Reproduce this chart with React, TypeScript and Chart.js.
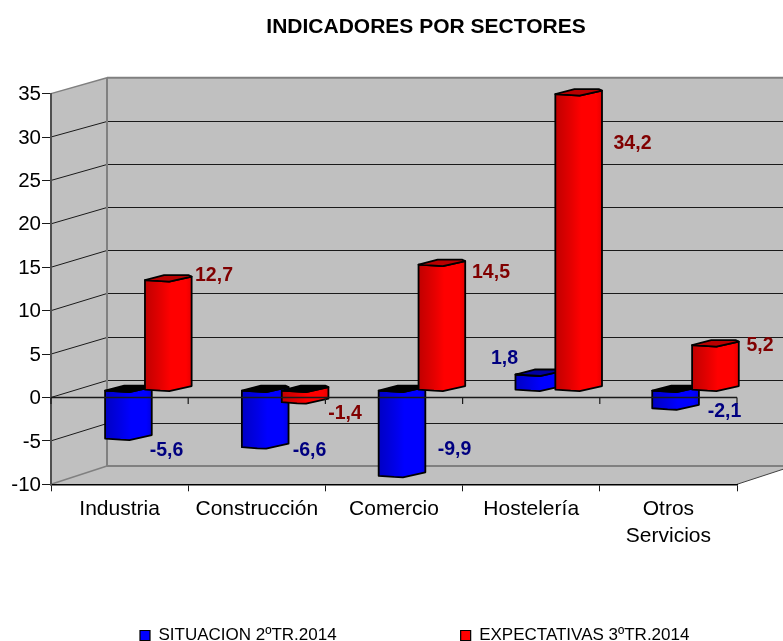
import React, { useEffect, useRef } from "react";
import { Chart, registerables, BarController, BarElement } from "chart.js";

const categories: any[] = ["Industria", "Construcción", "Comercio", "Hostelería", ["Otros", "Servicios"]];
const situacion = [-5.6, -6.6, -9.9, 1.8, -2.1];
const expectativas = [12.7, -1.4, 14.5, 34.2, 5.2];
const seriesNames = ["SITUACION 2ºTR.2014", "EXPECTATIVAS 3ºTR.2014"];
const titleText = "INDICADORES POR SECTORES";

const situacionLabelOffsets = [[66.9, 4.7], [72.7, -4], [80.5, -33.6], [-6.7, -23], [76.1, -3.9]];
const expectativasLabelOffsets = [[74.4, -11.5], [68.2, 4.1], [77, 1.2], [81.3, 43.2], [71.6, -6.6]];

const FONT = "'Liberation Sans', Arial, sans-serif";
const W = 783;
const H = 641;
const AREA = { left: 51, right: 737, top: 93.6, bottom: 484.3 };
const BACK = { dx: 56, top: 77.7, bottom: 466 };
const backY = (y: number) =>
  BACK.bottom + (y - AREA.bottom) * ((BACK.bottom - BACK.top) / (AREA.bottom - AREA.top));
const midY = (y: number) => (y + backY(y)) / 2;
const midX = (x: number) => x * 0.997 + 29.05;

const STOPS = [0, 0.35, 0.55, 0.88, 1];
const SHADES: Record<string, string[]> = {
  "#0000ff": ["#0000c4", "#0000e8", "#0000ff", "#0000ff", "#0000e0"],
  "#ff0000": ["#c00000", "#e60000", "#ff0000", "#ff0000", "#e80000"],
};
const CAPS: Record<string, string> = { "#0000ff": "#0000a0", "#ff0000": "#b80000" };

class Prism extends BarElement {
  static id = "prism";
  draw(ctx: CanvasRenderingContext2D) {
    const { x, y, base, width } = (this as any).getProps(["x", "y", "base", "width"]);
    const color = (this as any).options.backgroundColor as string;
    const L = midX(x - width / 2);
    const R = L + width;
    const a = midY(y);
    const b = midY(base);
    const top = Math.min(a, b);
    const bot = Math.max(a, b);
    const negative = y > base;
    ctx.save();
    ctx.lineJoin = "round";
    ctx.lineWidth = 1.8;
    ctx.strokeStyle = "#000";
    const g = ctx.createLinearGradient(L, 0, R, 0);
    SHADES[color].forEach((c, i) => g.addColorStop(STOPS[i], c));
    ctx.fillStyle = g;
    ctx.beginPath();
    ctx.moveTo(L, top + 1.5);
    ctx.lineTo(L, bot + 1.5);
    ctx.lineTo(L + 0.33 * width, bot + 2.6);
    ctx.lineTo(L + 0.52 * width, bot + 3);
    ctx.lineTo(R, bot - 2);
    ctx.lineTo(R, top - 2);
    ctx.lineTo(L + 0.52 * width, top + 3);
    ctx.closePath();
    ctx.fill();
    ctx.stroke();
    ctx.fillStyle = negative ? "#000" : CAPS[color];
    ctx.beginPath();
    ctx.moveTo(L, top + 1.5);
    ctx.lineTo(L + 0.41 * width, top - 3.5);
    ctx.lineTo(L + 0.93 * width, top - 3.5);
    ctx.lineTo(R, top - 2);
    ctx.lineTo(L + 0.52 * width, top + 3);
    ctx.closePath();
    ctx.fill();
    ctx.stroke();
    ctx.restore();
  }
}

class Bar3D extends BarController {
  static id = "bar3d";
  static defaults = { dataElementType: "prism" };
}

Chart.register(...registerables, Prism, Bar3D);

const line = (ctx: any, x1: number, y1: number, x2: number, y2: number, color: string, w: number) => {
  ctx.strokeStyle = color;
  ctx.lineWidth = w;
  ctx.beginPath();
  ctx.moveTo(x1, y1);
  ctx.lineTo(x2, y2);
  ctx.stroke();
};

const scene: any = {
  id: "scene",
  beforeLayout(chart: any) {
    const lg = chart.legend;
    if (!lg.__patched) {
      const fit = lg.fit;
      lg.fit = function () {
        fit.call(this);
        this.height = 10;
      };
      lg.__patched = true;
    }
  },
  afterLayout(chart: any) {
    const lg = chart.legend;
    const pad = lg.options.labels.padding;
    lg.left = 140 - pad;
    lg.right = 2000;
    lg.top = 637 - pad - 10;
    lg.bottom = H;
    chart.titleBlock.left = 115;
  },
  beforeDraw(chart: any) {
    const { ctx, chartArea: ca, scales } = chart;
    const y = scales.y;
    const bx = ca.left + BACK.dx;
    const brx = ca.right + BACK.dx;
    ctx.save();
    ctx.fillStyle = "#c0c0c0";
    ctx.beginPath();
    ctx.moveTo(ca.left, ca.top);
    ctx.lineTo(bx, BACK.top);
    ctx.lineTo(brx, BACK.top);
    ctx.lineTo(brx, BACK.bottom);
    ctx.lineTo(ca.right, ca.bottom);
    ctx.lineTo(ca.left, ca.bottom);
    ctx.closePath();
    ctx.fill();
    y.ticks.forEach((t: any) => {
      const py = y.getPixelForValue(t.value);
      if (t.value === y.max || t.value === y.min) return;
      const by = Math.round(backY(py)) + 0.5;
      line(ctx, ca.left, py, bx, by, "#1a1a1a", 1);
      line(ctx, bx, by, brx, by, "#1a1a1a", 1.2);
    });
    line(ctx, ca.left, ca.top, bx, BACK.top, "#808080", 1.5);
    line(ctx, bx, BACK.top, brx, BACK.top, "#808080", 2);
    line(ctx, bx, BACK.top, bx, BACK.bottom, "#808080", 2);
    line(ctx, bx, BACK.bottom, brx, BACK.bottom, "#808080", 2);
    line(ctx, ca.left, ca.bottom, bx, BACK.bottom, "#808080", 1.5);
    line(ctx, ca.right, ca.bottom, brx, BACK.bottom, "#404040", 1);
    ctx.restore();
  },
  beforeDatasetsDraw(chart: any) {
    chart.getSortedVisibleDatasetMetas().forEach((m: any) => m.controller.draw());
    const { ctx, chartArea: ca, scales } = chart;
    const zero = scales.y.getPixelForValue(0);
    ctx.save();
    line(ctx, ca.left, zero, ca.right, zero, "#1a1a1a", 1.5);
    const step = (ca.right - ca.left) / categories.length;
    for (let i = 0; i <= categories.length; i++) {
      const px = scales.x.getPixelForValue(0) - step / 2 + i * step;
      line(ctx, px, zero, px, zero + 6.5, "#1a1a1a", 1.2);
    }
    ctx.restore();
    return false;
  },
  afterDraw(chart: any) {
    const { ctx } = chart;
    const offsets = [situacionLabelOffsets, expectativasLabelOffsets];
    const colors = ["#000080", "#800000"];
    ctx.save();
    ctx.font = `bold 19.5px ${FONT}`;
    ctx.textAlign = "center";
    ctx.textBaseline = "middle";
    chart.data.datasets.forEach((ds: any, d: number) => {
      const meta = chart.getDatasetMeta(d);
      ctx.fillStyle = colors[d];
      ds.data.forEach((v: number, i: number) => {
        const el = meta.data[i];
        ctx.fillText(v.toFixed(1).replace(".", ","), el.x + offsets[d][i][0], el.y + offsets[d][i][1]);
      });
    });
    ctx.restore();
  },
};

export default function App() {
  const ref = useRef<HTMLCanvasElement>(null);
  useEffect(() => {
    document.body.style.margin = "0";
    document.body.style.background = "#fff";
    const chart = new Chart(ref.current as HTMLCanvasElement, {
      type: "bar3d" as any,
      plugins: [scene],
      data: {
        labels: categories,
        datasets: [
          { label: seriesNames[0], data: situacion, backgroundColor: "#0000ff", borderColor: "#000", borderWidth: 1.2, categoryPercentage: 0.583, barPercentage: 1.167 },
          { label: seriesNames[1], data: expectativas, backgroundColor: "#ff0000", borderColor: "#000", borderWidth: 1.2, categoryPercentage: 0.583, barPercentage: 1.167 },
        ],
      } as any,
      options: {
        responsive: false,
        animation: false,
        layout: { padding: { left: 0, right: W - AREA.right, top: 0, bottom: 0 } },
        plugins: {
          tooltip: { enabled: false },
          title: {
            display: true,
            text: titleText,
            color: "#000",
            font: { family: FONT, size: 21, weight: "bold", lineHeight: 1.2 },
            padding: { top: 15, bottom: AREA.top - 15 - 25.2 },
          },
          legend: {
            display: true,
            position: "bottom",
            align: "start",
            labels: {
              color: "#000",
              boxWidth: 10,
              boxHeight: 10,
              padding: 124,
              font: { family: FONT, size: 17 },
            },
          },
        },
        scales: {
          x: {
            type: "category",
            offset: true,
            afterFit: (s: any) => {
              s.height = H - AREA.bottom - 10;
            },
            grid: { offset: true, drawOnChartArea: false, drawTicks: true, tickLength: 7, color: "#1a1a1a" },
            border: { color: "#000", width: 1.5 },
            ticks: {
              color: "#000",
              autoSkip: false,
              maxRotation: 0,
              minRotation: 0,
              padding: 5,
              font: { family: FONT, size: 21, lineHeight: 1.27 },
            },
          },
          y: {
            type: "linear",
            min: -10,
            max: 35,
            afterFit: (s: any) => {
              s.width = AREA.left;
            },
            grid: { drawOnChartArea: false, drawTicks: true, tickLength: 9, color: "#1a1a1a" },
            border: { color: "#505050", width: 2 },
            ticks: { stepSize: 5, color: "#000", padding: 1, labelOffset: 1, font: { family: FONT, size: 20.5 } },
          },
        },
      } as any,
    });
    return () => chart.destroy();
  }, []);
  return (
    <div style={{ width: W, height: H }}>
      <canvas ref={ref} width={W} height={H} style={{ display: "block" }} />
    </div>
  );
}
